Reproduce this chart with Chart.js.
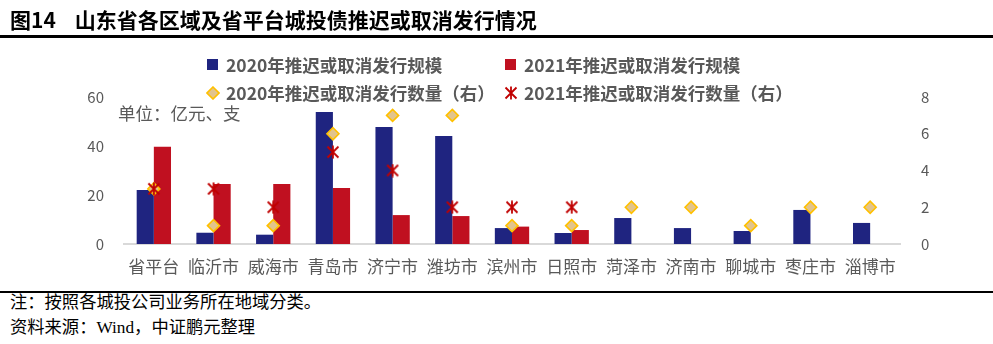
<!DOCTYPE html>
<html>
<head>
<meta charset="utf-8">
<script src="https://cdn.jsdelivr.net/npm/chart.js@4"></script>
<style>
  body { margin: 0; background: #fff; }
  #wrap { position: relative; width: 993px; height: 344px; background: #fff; overflow: hidden; }
  #chart { position: absolute; left: 0; top: 0; }
  .abs { position: absolute; white-space: nowrap; }
  .title { left: 10px; top: 7px; font: bold 21px/24px "Noto Sans CJK SC", sans-serif; color: #000; }
  .rule { left: 0; width: 993px; background: #000; }
  .legend { font: bold 17.5px/22px "Noto Sans CJK SC", sans-serif; color: #595959; }
  .unit { left: 118px; top: 102px; font: 17.5px/22px "Noto Sans CJK SC", sans-serif; color: #595959; }
  .note { left: 10px; font: 17.3px/20px "Liberation Serif", "Noto Sans CJK SC", serif; color: #000; }
</style>
</head>
<body>
<div id="wrap">
  <canvas id="chart" width="993" height="290"></canvas>
  <div class="abs title">图14&nbsp;&nbsp;&nbsp;&nbsp;山东省各区域及省平台城投债推迟或取消发行情况</div>
  <div class="abs rule" style="top:35px;height:3px"></div>

  <svg class="abs" style="left:207px;top:59px" width="12" height="12"><rect x="0" y="0" width="11" height="11" fill="#1f2480"/></svg>
  <div class="abs legend" style="left:226px;top:54px">2020年推迟或取消发行规模</div>
  <svg class="abs" style="left:505px;top:59px" width="12" height="12"><rect x="0" y="0" width="11" height="11" fill="#c01020"/></svg>
  <div class="abs legend" style="left:524px;top:54px">2021年推迟或取消发行规模</div>

  <svg class="abs" style="left:206px;top:86px" width="14" height="14"><path d="M7 1 L13 7 L7 13 L1 7 Z" fill="#e2c48c" stroke="#ffc000" stroke-width="1.6"/></svg>
  <div class="abs legend" style="left:226px;top:82px">2020年推迟或取消发行数量（右）</div>
  <svg class="abs" style="left:504px;top:86px" width="14" height="14"><path d="M1.5 1.5 L12.5 12.5 M12.5 1.5 L1.5 12.5 M7 0.5 L7 13.5" stroke="#c00000" stroke-width="1.8" fill="none"/></svg>
  <div class="abs legend" style="left:524px;top:82px">2021年推迟或取消发行数量（右）</div>

  <div class="abs unit">单位：亿元、支</div>

  <div class="abs rule" style="top:291px;height:2px"></div>
  <div class="abs note" style="top:293px">注：按照各城投公司业务所在地域分类。</div>
  <div class="abs note" style="top:318px">资料来源：Wind，中证鹏元整理</div>
</div>
<script>
// 山东各区域
const categories = ['省平台', '临沂市', '威海市', '青岛市', '济宁市', '潍坊市', '滨州市', '日照市', '菏泽市', '济南市', '聊城市', '枣庄市', '淄博市'];

// 推迟或取消发行规模（亿元，左轴）
const scale2020 = [22.0, 4.6, 3.8, 53.9, 47.8, 44.1, 6.5, 4.5, 10.6, 6.5, 5.3, 13.9, 8.6];
const scale2021 = [39.7, 24.5, 24.5, 22.9, 11.8, 11.4, 7.1, 5.7, null, null, null, null, null];

// 推迟或取消发行数量（支，右轴）
const count2020 = [3, 1, 1, 6, 7, 7, 1, 1, 2, 2, 1, 2, 2];
const count2021 = [3, 3, 2, 5, 4, 2, 2, 2, null, null, null, null, null];

const leftTicks = [0, 20, 40, 60];
const rightTicks = [0, 2, 4, 6, 8];

const gray = '#595959';
const tickFont = { family: '"Noto Sans CJK SC", sans-serif', size: 15 };

function makeStar(size, color) {
    const c = document.createElement('canvas');
    c.width = size;
    c.height = size;
    const g = c.getContext('2d');
    g.strokeStyle = color;
    g.lineWidth = 1.8;
    const a = 1.5, b = size - 1.5;
    g.beginPath();
    g.moveTo(a, a); g.lineTo(b, b);
    g.moveTo(b, a); g.lineTo(a, b);
    g.moveTo(size / 2, 0.5); g.lineTo(size / 2, size - 0.5);
    g.stroke();
    return c;
}

const star = makeStar(14, '#c00000');

new Chart(document.getElementById('chart'), {
    data: {
        labels: categories,
        datasets: [{
            type: 'line',
            label: '2021年推迟或取消发行数量（右）',
            data: count2021,
            yAxisID: 'y1',
            showLine: false,
            pointStyle: star,
            order: 0
        }, {
            type: 'line',
            label: '2020年推迟或取消发行数量（右）',
            data: count2020,
            yAxisID: 'y1',
            showLine: false,
            pointStyle: 'rectRot',
            pointRadius: 6,
            pointBackgroundColor: '#e2c48c',
            pointBorderColor: '#ffc000',
            pointBorderWidth: 1.6,
            order: 1
        }, {
            type: 'bar',
            label: '2020年推迟或取消发行规模',
            data: scale2020,
            yAxisID: 'y',
            backgroundColor: '#1f2480',
            order: 2
        }, {
            type: 'bar',
            label: '2021年推迟或取消发行规模',
            data: scale2021,
            yAxisID: 'y',
            backgroundColor: '#c01020',
            order: 3
        }]
    },
    options: {
        responsive: false,
        animation: false,
        layout: { padding: { top: 97, left: 0, right: 0, bottom: 0 } },
        datasets: {
            bar: { categoryPercentage: 0.575, barPercentage: 1.0 }
        },
        plugins: {
            legend: { display: false },
            tooltip: { enabled: false }
        },
        scales: {
            x: {
                grid: { display: true, drawOnChartArea: false, drawTicks: false },
                border: { display: true, color: '#d9d9d9', width: 2 },
                ticks: {
                    color: gray,
                    font: { family: '"Noto Sans CJK SC", sans-serif', size: 17 },
                    padding: 12,
                    maxRotation: 0,
                    autoSkip: false
                },
                afterFit: (s) => { s.height = 46; }
            },
            y: {
                position: 'left',
                min: leftTicks[0],
                max: leftTicks[leftTicks.length - 1],
                grid: { display: false },
                border: { display: false },
                ticks: { stepSize: 20, color: gray, font: tickFont, padding: 12 },
                afterFit: (s) => { s.width = 124; }
            },
            y1: {
                position: 'right',
                min: rightTicks[0],
                max: rightTicks[rightTicks.length - 1],
                grid: { display: false },
                border: { display: false },
                ticks: { stepSize: 2, color: gray, font: tickFont, padding: 13 },
                afterFit: (s) => { s.width = 93; }
            }
        }
    }
});
</script>
</body>
</html>
